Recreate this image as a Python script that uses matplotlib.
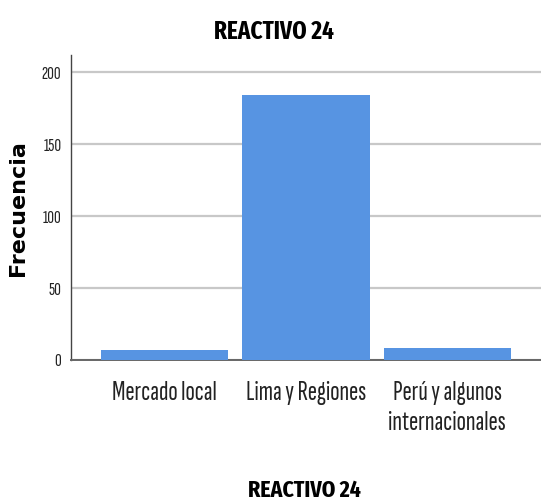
import matplotlib
matplotlib.use("Agg")
import matplotlib.pyplot as plt

categorias = ["Mercado local", "Lima y Regiones", "Perú y algunos\ninternacionales"]
frecuencias = [7, 184, 8]
ticks_y = [0, 50, 100, 150, 200]

angosta = ["Sofia Sans Extra Condensed", "DejaVu Sans"]
angosta_negrita = ["Fira Sans Extra Condensed", "DejaVu Sans"]

fig = plt.figure(figsize=(5.41, 5.04), dpi=100)
ax = fig.add_axes([71 / 541, 1 - 360 / 504, 1 - 71 / 541, (360 - 55) / 504])

ax.bar(range(len(categorias)), frecuencias, width=0.9, color="#5794E2", zorder=3)

ax.set_xlim(-0.665, 2.665)
ax.set_ylim(0, 212)
ax.set_yticks(ticks_y)
ax.set_yticklabels([str(t) for t in ticks_y], fontfamily=angosta, fontsize=13.5, color="#222222")
ax.set_xticks(range(len(categorias)))
ax.set_xticklabels(categorias, fontfamily=angosta, fontsize=20, color="#222222", linespacing=1.3)
ax.tick_params(axis="both", length=0)
ax.tick_params(axis="y", pad=7)
ax.tick_params(axis="x", pad=15)

ax.grid(axis="y", color="#C8C8C8", linewidth=1.6, zorder=0)
for lado in ["top", "right"]:
    ax.spines[lado].set_visible(False)
ax.spines["left"].set_color("#444444")
ax.spines["bottom"].set_color("#666666")
ax.spines["left"].set_linewidth(1.0)
ax.spines["bottom"].set_linewidth(1.4)

fig.text(274 / 541, 1 - 32 / 504, "REACTIVO 24", ha="center", va="center",
         fontfamily=angosta_negrita, fontweight="bold", fontsize=18)
fig.text(304 / 541, 1 - 490 / 504, "REACTIVO 24", ha="center", va="center",
         fontfamily=angosta_negrita, fontweight="bold", fontsize=17)
fig.text(18 / 541, 1 - 208 / 504, "Frecuencia", ha="center", va="center", rotation=90,
         fontfamily="DejaVu Sans", fontweight="bold", fontsize=16)

fig.savefig("out.png", dpi=100)
